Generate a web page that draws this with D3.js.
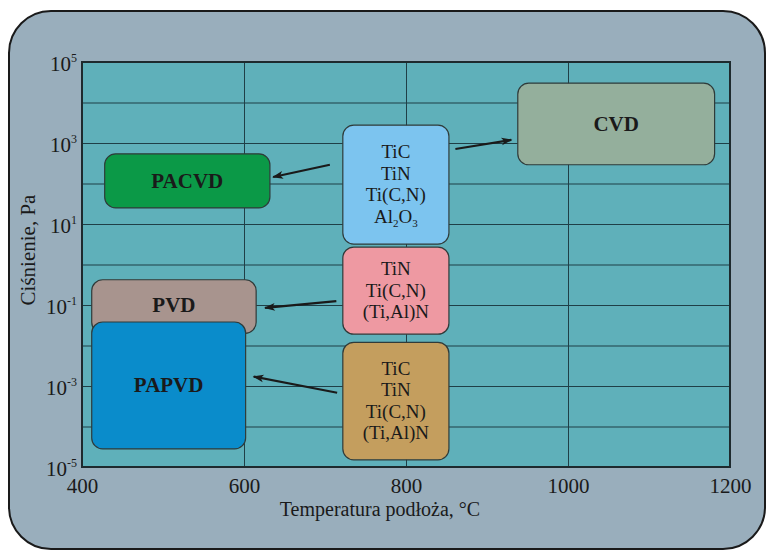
<!DOCTYPE html>
<html>
<head>
<meta charset="utf-8">
<script src="https://cdn.jsdelivr.net/npm/d3@7"></script>
<style>
  body { margin: 0; background: #fff; }
  text { font-family: "Liberation Serif", "DejaVu Serif", serif; fill: #1a1a1a; }
</style>
</head>
<body>
<svg id="chart" width="770" height="552"></svg>
<script>
// temperature ranges (°C) and pressure ranges (Pa) of each process
const processes = ['CVD', 'PACVD', 'PVD', 'PAPVD'];
const procTemp = [[938, 1181], [428, 632], [412, 615], [412, 602]];
const procPress = [[3.0e4, 290], [540, 25], [0.42, 0.02], [0.038, 2.8e-5]];

// coating groups in the middle column
const coatings = [
  ['TiC', 'TiN', 'Ti(C,N)', 'Al2O3'],
  ['TiN', 'Ti(C,N)', '(Ti,Al)N'],
  ['TiC', 'TiN', 'Ti(C,N)', '(Ti,Al)N']
];
const coatTemp = [[722, 853], [722, 853], [722, 853]];
const coatPress = [[2750, 3.2], [2.7, 0.019], [0.012, 1.5e-5]];

// arrows: from coating group towards process
const arrowFrom = [[861, 710], [706, 290], [714, 0.125], [715, 6.8e-4]];
const arrowTo = [[930, 1190], [636, 145], [626, 0.085], [612, 1.7e-3]];

const xTicks = [400, 600, 800, 1000, 1200];
const yTickExp = [5, 3, 1, -1, -3, -5];

const procColors = { CVD: '#94af9c', PACVD: '#0b9947', PVD: '#a8948e', PAPVD: '#0a8ccb' };
const coatColors = ['#7cc4ef', '#ee99a2', '#c49e5e'];

const svg = d3.select('#chart');
const margin = { left: 82, top: 62, right: 40, bottom: 85 };
const width = 730 - margin.left;
const height = 467 - margin.top;

// outer panel
svg.append('rect')
  .attr('x', 9).attr('y', 11)
  .attr('width', 756).attr('height', 538)
  .attr('rx', 42).attr('ry', 42)
  .attr('fill', '#99aebc')
  .attr('stroke', '#1a1a1a')
  .attr('stroke-width', 2);

const chart = svg.append('g')
  .attr('transform', `translate(${margin.left},${margin.top})`);

const x = d3.scaleLinear().domain([400, 1200]).range([0, width]);
const y = d3.scaleLog().domain([1e-5, 1e5]).range([height, 0]);

chart.append('rect')
  .attr('width', width).attr('height', height)
  .attr('fill', '#5fb0ba');

// gridlines
chart.append('g')
  .call(d3.axisLeft(y).tickValues(d3.range(-4, 5).map(e => Math.pow(10, e)))
    .tickSize(-width).tickFormat(''))
  .call(g => g.select('.domain').remove())
  .selectAll('line').attr('stroke', '#1f3f47').attr('stroke-width', 1);

chart.append('g')
  .call(d3.axisBottom(x).tickValues(xTicks.slice(1, -1))
    .tickSize(height).tickFormat(''))
  .call(g => g.select('.domain').remove())
  .selectAll('line').attr('stroke', '#1f3f47').attr('stroke-width', 1);

// frame
chart.append('rect')
  .attr('width', width).attr('height', height)
  .attr('fill', 'none')
  .attr('stroke', '#1e2a2e')
  .attr('stroke-width', 2);

// x tick labels
const xAxis = chart.append('g')
  .attr('transform', `translate(0,${height})`)
  .call(d3.axisBottom(x).tickValues(xTicks).tickSize(0).tickPadding(0).tickFormat(d3.format('d')));
xAxis.select('.domain').remove();
xAxis.selectAll('text')
  .attr('y', 26)
  .attr('dy', 0)
  .style('font-family', '"Liberation Serif", serif')
  .style('font-size', '21px')
  .attr('fill', '#1a1a1a');

// y tick labels (10^n)
const yAxis = chart.append('g')
  .call(d3.axisLeft(y).tickValues(yTickExp.map(e => Math.pow(10, e))).tickSize(0).tickFormat(''));
yAxis.select('.domain').remove();
yAxis.selectAll('.tick').append('text')
  .attr('x', -5)
  .attr('y', 8)
  .attr('text-anchor', 'end')
  .style('font-size', '21px')
  .each(function (d) {
    const t = d3.select(this);
    t.append('tspan').text('10');
    t.append('tspan')
      .attr('dy', -9)
      .style('font-size', '12px')
      .text(Math.round(Math.log10(d)));
  });

// axis titles
svg.append('text')
  .attr('x', 380).attr('y', 516)
  .attr('text-anchor', 'middle')
  .style('font-size', '20px')
  .text('Temperatura podłoża, °C');

svg.append('text')
  .attr('transform', 'translate(35,250) rotate(-90)')
  .attr('text-anchor', 'middle')
  .style('font-size', '21px')
  .text('Ciśnienie, Pa');

// process boxes
const procData = processes.map((p, i) => ({ name: p, t: procTemp[i], p: procPress[i] }));
const pg = chart.selectAll('.proc')
  .data(procData)
  .join('g')
  .attr('class', 'proc');

pg.append('rect')
  .attr('x', d => x(d.t[0]))
  .attr('y', d => y(d.p[0]))
  .attr('width', d => x(d.t[1]) - x(d.t[0]))
  .attr('height', d => y(d.p[1]) - y(d.p[0]))
  .attr('rx', 11).attr('ry', 11)
  .attr('fill', d => procColors[d.name])
  .attr('stroke', '#2f3b3a')
  .attr('stroke-width', 1.2);

pg.append('text')
  .attr('x', d => (x(d.t[0]) + x(d.t[1])) / 2)
  .attr('y', d => (d.name === 'PVD' ? y(0.1) : (y(d.p[0]) + y(d.p[1])) / 2) + 7)
  .attr('text-anchor', 'middle')
  .style('font-size', '21px')
  .style('font-weight', 'bold')
  .text(d => d.name);

// coating boxes
const coatData = coatings.map((c, i) => ({ lines: c, t: coatTemp[i], p: coatPress[i], color: coatColors[i] }));
const cg = chart.selectAll('.coat')
  .data(coatData)
  .join('g')
  .attr('class', 'coat');

cg.append('rect')
  .attr('x', d => x(d.t[0]))
  .attr('y', d => y(d.p[0]))
  .attr('width', d => x(d.t[1]) - x(d.t[0]))
  .attr('height', d => y(d.p[1]) - y(d.p[0]))
  .attr('rx', 11).attr('ry', 11)
  .attr('fill', d => d.color)
  .attr('stroke', '#2f3b3a')
  .attr('stroke-width', 1.2);

cg.each(function (d) {
  const g = d3.select(this);
  const cx = (x(d.t[0]) + x(d.t[1])) / 2;
  const cy = (y(d.p[0]) + y(d.p[1])) / 2;
  const lh = 21.5;
  const top = cy - (d.lines.length - 1) * lh / 2;
  d.lines.forEach((line, i) => {
    const t = g.append('text')
      .attr('x', cx)
      .attr('y', top + i * lh + 6)
      .attr('text-anchor', 'middle')
      .style('font-size', '19px');
    if (line === 'Al2O3') {
      t.append('tspan').text('Al');
      t.append('tspan').attr('dy', 4).style('font-size', '11px').text('2');
      t.append('tspan').attr('dy', -4).text('O');
      t.append('tspan').attr('dy', 4).style('font-size', '11px').text('3');
    } else {
      t.text(line);
    }
  });
});

// arrows
svg.append('defs').append('marker')
  .attr('id', 'head')
  .attr('viewBox', '0 0 10 10')
  .attr('refX', 9).attr('refY', 5)
  .attr('markerWidth', 6).attr('markerHeight', 5)
  .attr('markerUnits', 'strokeWidth')
  .attr('orient', 'auto')
  .append('path')
  .attr('d', 'M0,1.5 L10,5 L0,8.5 L2.5,5 Z')
  .attr('fill', '#1a1a1a');

chart.selectAll('.arrow')
  .data(arrowFrom.map((f, i) => ({ f, t: arrowTo[i] })))
  .join('line')
  .attr('class', 'arrow')
  .attr('x1', d => x(d.f[0])).attr('y1', d => y(d.f[1]))
  .attr('x2', d => x(d.t[0])).attr('y2', d => y(d.t[1]))
  .attr('stroke', '#1a1a1a')
  .attr('stroke-width', 2.2)
  .attr('marker-end', 'url(#head)');
</script>
</body>
</html>
